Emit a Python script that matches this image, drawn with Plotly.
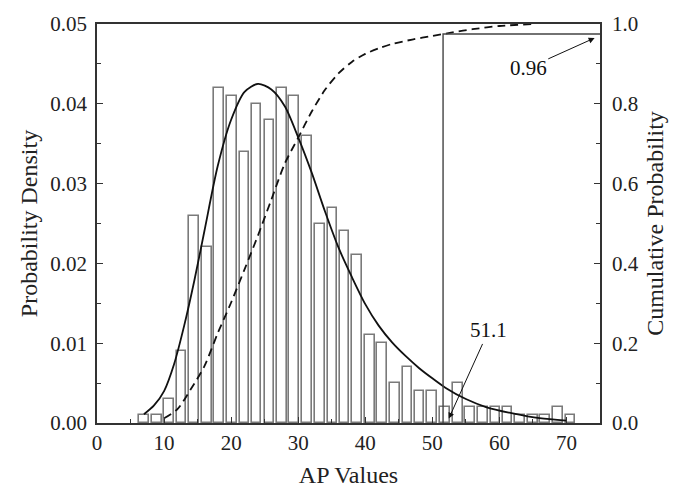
import plotly.graph_objects as go

# Histogram (bin centers and probability density)
bin_centers = [7.0, 8.9, 10.7, 12.6, 14.5, 16.4, 18.2, 20.1, 22.0, 23.8, 25.7, 27.6,
               29.4, 31.3, 33.2, 35.1, 36.9, 38.8, 40.7, 42.5, 44.4, 46.3, 48.1, 50.0,
               51.9, 53.8, 55.6, 57.5, 59.4, 61.2, 63.1, 65.0, 66.8, 68.7, 70.6]
density = [0.001, 0.001, 0.003, 0.009, 0.026, 0.022, 0.042, 0.041, 0.034, 0.040, 0.038, 0.042,
           0.041, 0.036, 0.025, 0.027, 0.024, 0.021, 0.011, 0.010, 0.005, 0.007, 0.004, 0.004,
           0.002, 0.005, 0.002, 0.002, 0.002, 0.002, 0.001, 0.001, 0.001, 0.002, 0.001]

# Fitted PDF curve
pdf_x = [7, 8.5, 10, 11.5, 13, 14.5, 16, 18, 20, 22, 24, 26, 28, 30, 32, 34, 36, 38, 40,
         42, 44, 46, 48, 50, 52, 55, 58, 62, 66, 70]
pdf_y = [0.0011, 0.0022, 0.0040, 0.0074, 0.0122, 0.0178, 0.0240, 0.0322, 0.0380, 0.0415,
         0.0425, 0.0418, 0.0397, 0.0358, 0.0314, 0.0265, 0.0220, 0.0183, 0.0149, 0.0122,
         0.0101, 0.0084, 0.0069, 0.0056, 0.0044, 0.0030, 0.0020, 0.0012, 0.0006, 0.0003]

# Cumulative probability curve
cdf_x = [10, 12, 14, 16, 18, 20, 22, 24, 26, 28, 30, 32, 34, 36, 38, 40, 42, 44, 47, 50,
         53, 56, 60, 65]
cdf_y = [0.012, 0.035, 0.085, 0.142, 0.225, 0.302, 0.385, 0.470, 0.560, 0.650, 0.715, 0.780,
         0.835, 0.876, 0.905, 0.925, 0.939, 0.950, 0.961, 0.970, 0.979, 0.987, 0.995, 1.0]

# Threshold guide
threshold_x = 51.6
threshold_cum = 0.975
x_max = 75
label_threshold = "51.1"
label_cum = "0.96"

FONT = "Liberation Serif, Times New Roman, serif"
AXC = "#333333"
TICK_SIZE = 21
TITLE_SIZE = 24

fig = go.Figure()

fig.add_trace(go.Bar(
    x=bin_centers, y=density, width=1.45,
    marker=dict(color="white", line=dict(color="#7a7a7a", width=1.6)),
    showlegend=False, hoverinfo="skip"))

fig.add_trace(go.Scatter(
    x=pdf_x, y=pdf_y, mode="lines",
    line=dict(color="#111111", width=1.8, shape="spline", smoothing=0.8),
    showlegend=False, hoverinfo="skip"))

fig.add_trace(go.Scatter(
    x=cdf_x, y=cdf_y, mode="lines", yaxis="y2",
    line=dict(color="#111111", width=1.8, dash="8px,5px", shape="spline", smoothing=0.8),
    showlegend=False, hoverinfo="skip"))

fig.add_trace(go.Scatter(
    x=[threshold_x, threshold_x, x_max], y=[0, threshold_cum, threshold_cum],
    mode="lines", yaxis="y2",
    line=dict(color="#444444", width=1.4),
    showlegend=False, hoverinfo="skip"))

fig.add_annotation(
    x=74.2, y=0.965, xref="x", yref="y2",
    ax=64.3, ay=0.89, axref="x", ayref="y2",
    text=label_cum, showarrow=True, arrowhead=2, arrowsize=1.2, arrowwidth=1,
    arrowcolor="#111111", font=dict(family=FONT, size=TICK_SIZE, color="#111111"))

fig.add_annotation(
    x=52.45, y=0.011, xref="x", yref="y2",
    ax=58.4, ay=0.232, axref="x", ayref="y2",
    text=label_threshold, showarrow=True, arrowhead=2, arrowsize=1.2, arrowwidth=1,
    arrowcolor="#111111", font=dict(family=FONT, size=TICK_SIZE, color="#111111"))

fig.update_layout(
    width=676, height=497,
    margin=dict(l=97, r=74, t=19, b=74),
    paper_bgcolor="white", plot_bgcolor="white",
    font=dict(family=FONT, size=TICK_SIZE, color="#222222"),
    bargap=0,
    xaxis=dict(
        range=[0, 75], tickmode="array", tickvals=[0, 10, 20, 30, 40, 50, 60, 70],
        ticks="inside", ticklen=6, tickwidth=1.2, tickcolor=AXC,
        minor=dict(tickvals=[5, 15, 25, 35, 45, 55, 65], ticks="inside", ticklen=4, tickcolor=AXC),
        showline=True, linecolor=AXC, linewidth=1.5, mirror=True,
        showgrid=False, zeroline=False, ticklabelstandoff=0,
        title=dict(text="AP Values", font=dict(family=FONT, size=TITLE_SIZE), standoff=12),
        tickfont=dict(family=FONT, size=TICK_SIZE)),
    yaxis=dict(
        range=[0, 0.05], tickmode="array", tickvals=[0, 0.01, 0.02, 0.03, 0.04, 0.05],
        ticktext=["0.00", "0.01", "0.02", "0.03", "0.04", "0.05"],
        ticks="inside", ticklen=6, tickwidth=1.2, tickcolor=AXC,
        minor=dict(tickvals=[0.005, 0.015, 0.025, 0.035, 0.045], ticks="inside", ticklen=4, tickcolor=AXC),
        showline=True, linecolor=AXC, linewidth=1.5,
        showgrid=False, zeroline=False, ticklabelstandoff=4,
        title=dict(text="Probability Density", font=dict(family=FONT, size=TITLE_SIZE), standoff=6),
        tickfont=dict(family=FONT, size=TICK_SIZE)),
    yaxis2=dict(
        range=[0, 1.0], overlaying="y", side="right",
        tickmode="array", tickvals=[0, 0.2, 0.4, 0.6, 0.8, 1.0],
        ticktext=["0.0", "0.2", "0.4", "0.6", "0.8", "1.0"],
        ticks="inside", ticklen=6, tickwidth=1.2, tickcolor=AXC,
        minor=dict(tickvals=[0.1, 0.3, 0.5, 0.7, 0.9], ticks="inside", ticklen=4, tickcolor=AXC),
        showline=True, linecolor=AXC, linewidth=1.5,
        showgrid=False, zeroline=False, ticklabelstandoff=6,
        title=dict(text="Cumulative Probability", font=dict(family=FONT, size=TITLE_SIZE), standoff=8),
        tickfont=dict(family=FONT, size=TICK_SIZE)),
)

fig.write_html("out.html")
